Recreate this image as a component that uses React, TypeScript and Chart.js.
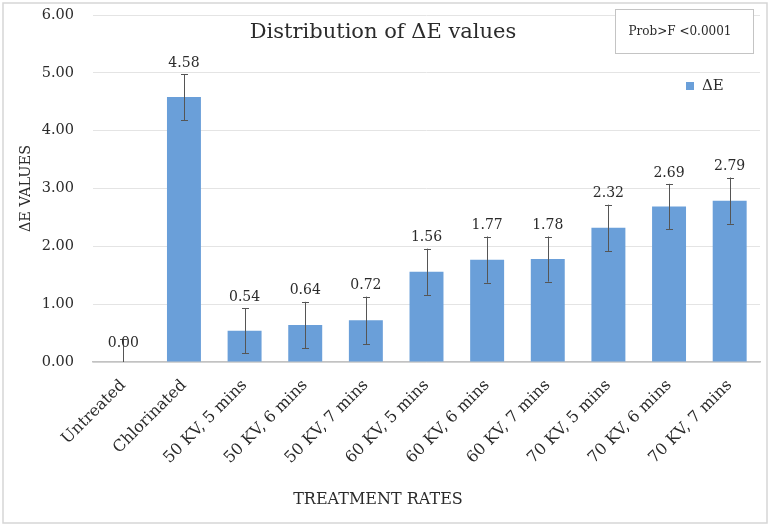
import { useEffect, useRef } from "react";
import { Chart, registerables } from "chart.js";
Chart.register(...registerables);

const categories = [
  "Untreated",
  "Chlorinated",
  "50 KV, 5 mins",
  "50 KV, 6 mins",
  "50 KV, 7 mins",
  "60 KV, 5 mins",
  "60 KV, 6 mins",
  "60 KV, 7 mins",
  "70 KV, 5 mins",
  "70 KV, 6 mins",
  "70 KV, 7 mins",
];
const deltaE = [0.0, 4.58, 0.54, 0.64, 0.72, 1.56, 1.77, 1.78, 2.32, 2.69, 2.79];
const errors = [0.4, 0.4, 0.39, 0.4, 0.41, 0.4, 0.4, 0.39, 0.4, 0.39, 0.4];
const yMin = 0;
const yMax = 6;
const yStep = 1;
const seriesLabel = "ΔE";
const chartTitle = "Distribution of ΔE values";
const xTitle = "TREATMENT RATES";
const yTitle = "ΔE VALUES";
const noteText = "Prob>F <0.0001";

const FONT = "'DejaVu Serif', 'Liberation Serif', serif";
const TEXT = "#2b2b2b";
const BAR = "#6a9fd9";

const overlayPlugin = {
  id: "overlay",
  afterDatasetsDraw(chart: any) {
    const { ctx, scales } = chart;
    const y = scales.y;
    const meta = chart.getDatasetMeta(0);
    ctx.save();
    ctx.strokeStyle = "#555555";
    ctx.lineWidth = 1;
    meta.data.forEach((bar: any, i: number) => {
      const v = deltaE[i];
      const e = errors[i];
      const x = Math.round(bar.x) + 0.5;
      const lowV = Math.max(yMin, v - e);
      const yTop = y.getPixelForValue(v + e);
      const yLow = y.getPixelForValue(lowV);
      ctx.beginPath();
      ctx.moveTo(x, yTop);
      ctx.lineTo(x, yLow);
      ctx.moveTo(x - 3.5, Math.round(yTop) + 0.5);
      ctx.lineTo(x + 3.5, Math.round(yTop) + 0.5);
      if (v - e > yMin) {
        ctx.moveTo(x - 3.5, Math.round(yLow) + 0.5);
        ctx.lineTo(x + 3.5, Math.round(yLow) + 0.5);
      }
      ctx.stroke();
    });
    ctx.fillStyle = TEXT;
    ctx.font = `14px ${FONT}`;
    ctx.textAlign = "center";
    ctx.textBaseline = "middle";
    meta.data.forEach((bar: any, i: number) => {
      const v = deltaE[i];
      const e = errors[i];
      const ly = v > 0 ? y.getPixelForValue(v + e) - 11 : y.getPixelForValue(v) - 19;
      ctx.fillText(v.toFixed(2), bar.x, ly);
    });
    ctx.restore();
  },
  afterDraw(chart: any) {
    const { ctx, chartArea, width, height } = chart;
    ctx.save();
    ctx.fillStyle = TEXT;
    ctx.textAlign = "center";
    ctx.textBaseline = "middle";
    ctx.font = `21px ${FONT}`;
    ctx.fillText(chartTitle, width / 2 - 2, chartArea.top + 18);
    ctx.font = `16px ${FONT}`;
    ctx.fillText(xTitle, width / 2 - 7, height - 27);
    const bx = width - 155;
    const by = 9;
    ctx.strokeStyle = "#c4c4c4";
    ctx.lineWidth = 1;
    ctx.fillStyle = "#ffffff";
    ctx.fillRect(bx + 0.5, by + 0.5, 138, 44);
    ctx.strokeRect(bx + 0.5, by + 0.5, 138, 44);
    ctx.fillStyle = TEXT;
    ctx.font = `12px ${FONT}`;
    ctx.fillText(noteText, bx + 65, by + 23);
    const lx = chartArea.right - 74;
    const ly = 86;
    ctx.fillStyle = BAR;
    ctx.fillRect(lx, ly - 4, 8, 8);
    ctx.fillStyle = TEXT;
    ctx.textAlign = "left";
    ctx.font = `15px ${FONT}`;
    ctx.fillText(seriesLabel, lx + 16, ly);
    ctx.strokeStyle = "#d6d6d6";
    ctx.lineWidth = 1.5;
    ctx.strokeRect(3, 3, width - 6, height - 7);
    ctx.restore();
  },
};

export default function App() {
  const ref = useRef<HTMLCanvasElement | null>(null);
  useEffect(() => {
    document.body.style.margin = "0";
    const canvas = ref.current;
    if (!canvas) return;
    const chart = new Chart(canvas, {
      type: "bar",
      data: {
        labels: categories,
        datasets: [
          {
            label: seriesLabel,
            data: deltaE,
            backgroundColor: BAR,
            borderWidth: 0,
            barPercentage: 0.56,
            categoryPercentage: 1,
          },
        ],
      },
      options: {
        responsive: false,
        animation: false,
        devicePixelRatio: 1,
        layout: { padding: { left: 0, right: 10, top: 15, bottom: 0 } },
        plugins: {
          legend: { display: false },
          title: { display: false },
          tooltip: { enabled: false },
        },
        scales: {
          x: {
            grid: { display: false, drawTicks: false },
            border: { display: true, color: "#c2c2c2", width: 1.5 },
            ticks: {
              color: TEXT,
              font: { family: FONT, size: 16 },
              minRotation: 45,
              maxRotation: 45,
              padding: 14,
              autoSkip: false,
            },
            afterFit: (scale: any) => {
              scale.height = 165;
            },
          },
          y: {
            min: yMin,
            max: yMax,
            grid: { color: "#e4e4e4", lineWidth: 1, drawTicks: false },
            border: { display: false },
            ticks: {
              stepSize: yStep,
              color: TEXT,
              font: { family: FONT, size: 14.5 },
              padding: 19,
              callback: (v: any) => Number(v).toFixed(2),
            },
            title: {
              display: true,
              text: yTitle,
              color: TEXT,
              font: { family: FONT, size: 14.5 },
              padding: { top: 18, bottom: 0 },
            },
            afterFit: (scale: any) => {
              scale.width = 93;
              scale.paddingTop = 8;
              scale.paddingBottom = 8;
            },
          },
        },
      },
      plugins: [overlayPlugin],
    });
    return () => chart.destroy();
  }, []);
  return <canvas ref={ref} width={770} height={527} style={{ display: "block" }} />;
}
